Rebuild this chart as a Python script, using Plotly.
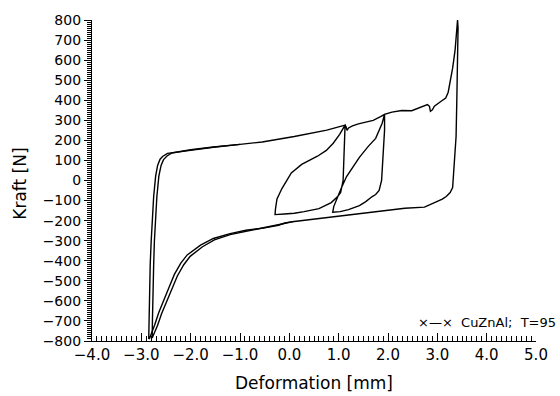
import plotly.graph_objects as go

# Cycle 1: full pseudoelastic loop with two partial inner loops (deformation in mm, force in N)
cycle1_x = [
    -2.85, -2.845, -2.84, -2.83, -2.82, -2.80, -2.78, -2.75, -2.71, -2.67, -2.62, -2.57, -2.47,
    -2.0, -1.54, -1.0, -0.55, 0.10, 0.76, 1.13,
    # partial unload 1
    1.12, 1.11, 1.09, 1.04, 0.98, 0.85, 0.60, 0.30, 0.10, -0.10, -0.29,
    # partial reload 1
    -0.28, -0.25, -0.15, 0.04, 0.25, 0.57, 0.75, 0.89, 1.02, 1.13,
    1.15, 1.17, 1.20, 1.28, 1.40, 1.55, 1.70, 1.85, 1.93,
    # partial unload 2
    1.93, 1.90, 1.87, 1.82, 1.75, 1.68, 1.55, 1.42, 1.20, 1.03, 0.88,
    # partial reload 2
    0.90, 0.98, 1.05, 1.16, 1.30, 1.42, 1.60, 1.75, 1.88, 1.93,
    2.08, 2.28, 2.48, 2.55, 2.62, 2.71, 2.80, 2.84, 2.86, 2.90, 2.94, 3.07, 3.17, 3.22, 3.26,
    3.31, 3.36, 3.39, 3.41,
    # full unload
    3.42, 3.415, 3.41, 3.395, 3.38, 3.34, 3.31, 3.26, 3.18, 3.10, 2.90, 2.74, 2.34, 1.68,
    1.00, 0.50, 0.10, -0.09, -0.22, -0.50, -0.88, -1.20, -1.54, -1.80, -2.07, -2.20, -2.33,
    -2.45, -2.55, -2.65, -2.73, -2.79, -2.83, -2.85,
]
cycle1_y = [
    -790, -700, -600, -500, -419, -300, -174, -80, 22, 75, 106, 120, 135,
    152, 166, 180, 192, 219, 251, 276,
    200, 100, 0, -60, -80, -110, -140, -155, -163, -167, -170,
    -140, -92, -40, 38, 80, 121, 150, 186, 230, 276,
    268, 250, 262, 272, 282, 290, 300, 318, 330,
    250, 100, 0, -50, -70, -80, -105, -125, -145, -155, -158,
    -130, -80, -40, 20, 70, 115, 170, 210, 284, 330,
    341, 349, 348, 355, 358, 370, 378, 370, 345, 352, 370, 394, 411, 440, 492,
    560, 650, 730, 800,
    760, 650, 546, 400, 219, 55, -35, -60, -80, -93, -117, -133, -138, -158,
    -175, -190, -204, -212, -223, -236, -248, -265, -289, -322, -371, -412, -468,
    -540, -600, -660, -720, -765, -785, -790,
]

# Cycle 2: second pass of the outer loop on the compression side
cycle2_x = [
    0.10, -0.10, -0.25, -0.50, -0.88, -1.20, -1.52, -1.76, -2.01, -2.14, -2.27, -2.39,
    -2.49, -2.59, -2.67, -2.73, -2.77, -2.78,
    -2.775, -2.77, -2.76, -2.75, -2.735, -2.715, -2.685, -2.645, -2.60, -2.55, -2.48, -2.38,
    -2.0, -1.54, -1.0,
]
cycle2_y = [
    -204, -216, -222, -234, -252, -270, -296, -330, -378, -420, -476,
    -546, -606, -664, -722, -762, -780, -785,
    -700, -600, -500, -419, -300, -174, -80, 22, 75, 104, 122, 137,
    153, 167, 180,
]

x_range = [-4, 5]
y_range = [-800, 800]

line_style = dict(color="black", width=1.4)
fig = go.Figure()
fig.add_trace(go.Scatter(x=cycle1_x, y=cycle1_y, mode="lines", line=line_style, showlegend=False))
fig.add_trace(go.Scatter(x=cycle2_x, y=cycle2_y, mode="lines", line=line_style, showlegend=False))

font_family = "DejaVu Sans"
fig.update_layout(
    width=560, height=396,
    margin=dict(l=92, r=12, t=15, b=55),
    plot_bgcolor="white",
    font=dict(family=font_family, color="black"),
    showlegend=False,
    xaxis=dict(
        range=x_range, dtick=1, tickformat=".1f",
        showline=True, linecolor="black", linewidth=1.2,
        ticks="inside", ticklen=8, tickcolor="black",
        minor=dict(dtick=0.1, ticks="inside", ticklen=5, tickcolor="black"),
        tickfont=dict(size=15, family=font_family),
    ),
    yaxis=dict(
        range=y_range, dtick=100,
        showline=True, linecolor="black", linewidth=1.2,
        ticks="outside", ticklen=7, tickcolor="black",
        minor=dict(dtick=10, ticks="outside", ticklen=4, tickcolor="black"),
        tickfont=dict(size=14, family=font_family),
    ),
)

fig.add_annotation(
    text="Deformation [mm]", xref="paper", yref="paper", x=0.5, y=0,
    xanchor="center", yanchor="middle", yshift=-42, showarrow=False,
    font=dict(size=17, family=font_family),
)
fig.add_annotation(
    text="Kraft [N]", xref="paper", yref="paper", x=0, y=0.49, textangle=-90,
    xanchor="center", yanchor="middle", xshift=-72, showarrow=False,
    font=dict(size=17, family=font_family),
)
fig.add_annotation(
    text="×—×  CuZnAl;  T=95", xref="paper", yref="paper", x=(425 - 92) / 456, y=(341 - 322) / 326,
    xanchor="left", yanchor="middle", showarrow=False,
    font=dict(size=13, family=font_family),
)

fig.write_html("out.html")
